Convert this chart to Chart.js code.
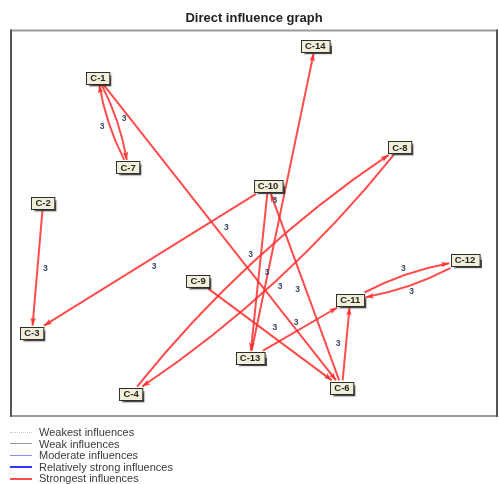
<!DOCTYPE html>
<html><head><meta charset="utf-8">
<script src="https://cdn.jsdelivr.net/npm/chart.js@4.4.1/dist/chart.umd.min.js"></script>
<style>
html,body{margin:0;padding:0;background:#fff;}
#wrap{position:relative;width:499px;height:484px;overflow:hidden;}
canvas{position:absolute;left:0;top:0;}
#legend{position:absolute;left:0;top:426px;width:300px;height:58px;font:11px "Liberation Sans",Arial,sans-serif;color:#3a3a3a;}
.row{position:absolute;left:0;height:12px;width:300px;white-space:nowrap;}
.sw{position:absolute;left:10px;width:22px;height:0;}
.lt{position:absolute;left:39px;top:0;line-height:12px;}
</style></head>
<body><div id="wrap"><canvas id="c" width="499" height="484"></canvas><div id="legend"></div></div>
<script>
// ---- data ----
const nodeNames = ["C-1","C-2","C-3","C-4","C-6","C-7","C-8","C-9","C-10","C-11","C-12","C-13","C-14"];
const nodeX     = [17.9, 6.6, 4.3, 24.7, 68.1, 24.1, 80.0, 38.5, 52.9, 69.8, 93.4, 49.2, 62.6];
const nodeY     = [12.2, 44.8, 78.5, 94.3, 92.7, 35.5, 30.3, 65.0, 40.4, 69.9, 59.6, 85.0, 3.9];
const edgeFrom  = ["C-1","C-7","C-1","C-2","C-10","C-4","C-8","C-13","C-10","C-6","C-9","C-13","C-6","C-11","C-12"];
const edgeTo    = ["C-7","C-1","C-6","C-3","C-3","C-8","C-4","C-14","C-13","C-10","C-6","C-11","C-11","C-12","C-11"];
const edgeValue = [3,3,3,3,3,3,3,3,3,3,3,3,3,3,3];
const legendLabels = ["Weakest influences","Weak influences","Moderate influences","Relatively strong influences","Strongest influences"];
const legendColors = ["#c8c8c8","#9a9a9a","#8c8cff","#3434ff","#ff4d4d"];
const legendStyles = ["dotted","solid","solid","solid","solid"];
const legendWidths = [1,1.5,1.5,2,2];

// ---- legend (HTML) ----
const lg = document.getElementById('legend');
legendLabels.forEach((t,i)=>{
  const r = document.createElement('div'); r.className='row'; r.style.top=(i*11.6)+'px';
  const s = document.createElement('div'); s.className='sw';
  s.style.top = (6.5 - legendWidths[i]/2)+'px';
  s.style.borderTop = legendWidths[i]+'px '+legendStyles[i]+' '+legendColors[i];
  const l = document.createElement('div'); l.className='lt'; l.textContent=t;
  r.appendChild(s); r.appendChild(l); lg.appendChild(r);
});

const NODE_FONT = 'bold 9.5px "Liberation Sans", Arial, sans-serif';
const EDGE_COLOR = 'rgba(255,45,45,0.85)';

function boxSize(ctx, name){
  ctx.save(); ctx.font = NODE_FONT;
  const w = ctx.measureText(name).width + 8;
  ctx.restore();
  return {w:w, h:12};
}
function clip(cx, cy, ux, uy, hw, hh){
  const ax = Math.abs(ux), ay = Math.abs(uy);
  let t = Infinity;
  if (ax > 1e-9) t = Math.min(t, hw/ax);
  if (ay > 1e-9) t = Math.min(t, hh/ay);
  return [cx + ux*t, cy + uy*t];
}

const graphPlugin = {
  id:'graph',
  beforeDatasetsDraw(chart){
    const ctx = chart.ctx, a = chart.chartArea;
    const meta = chart.getDatasetMeta(0);
    // frame
    ctx.save();
    ctx.lineWidth = 2;
    ctx.strokeStyle = '#9a9a9a';
    ctx.beginPath(); ctx.moveTo(a.left, a.top); ctx.lineTo(a.right, a.top);
    ctx.moveTo(a.left, a.bottom); ctx.lineTo(a.right, a.bottom); ctx.stroke();
    ctx.strokeStyle = '#555';
    ctx.beginPath(); ctx.moveTo(a.left, a.top-1); ctx.lineTo(a.left, a.bottom+1);
    ctx.moveTo(a.right, a.top-1); ctx.lineTo(a.right, a.bottom+1); ctx.stroke();
    ctx.restore();

    const pos = {};
    nodeNames.forEach((n,i)=>{ const el = meta.data[i]; pos[n] = {x:el.x, y:el.y, s:boxSize(ctx,n)}; });
    const key = new Set(edgeFrom.map((f,i)=>f+'>'+edgeTo[i]));

    ctx.save();
    ctx.strokeStyle = EDGE_COLOR; ctx.fillStyle = EDGE_COLOR; ctx.lineWidth = 2;
    const labels = [];
    edgeFrom.forEach((f,i)=>{
      const t = edgeTo[i];
      const A = pos[f], B = pos[t];
      const dx = B.x-A.x, dy = B.y-A.y, len = Math.hypot(dx,dy);
      const ux = dx/len, uy = dy/len;
      const px = uy, py = -ux; // perpendicular
      const mx = (A.x+B.x)/2, my = (A.y+B.y)/2;
      const paired = key.has(t+'>'+f);
      const bulge = paired ? 0.038*len : 0;
      const cx = mx + 2*bulge*px, cy = my + 2*bulge*py;
      let sx = cx-A.x, sy = cy-A.y, sl = Math.hypot(sx,sy); sx/=sl; sy/=sl;
      let ex = cx-B.x, ey = cy-B.y, el = Math.hypot(ex,ey); ex/=el; ey/=el;
      const S = clip(A.x, A.y, sx, sy, A.s.w/2+1.5, A.s.h/2+1.5);
      const E = clip(B.x, B.y, ex, ey, B.s.w/2+1.5, B.s.h/2+1.5);
      ctx.beginPath(); ctx.moveTo(S[0],S[1]);
      if (paired) ctx.quadraticCurveTo(cx,cy,E[0],E[1]); else ctx.lineTo(E[0],E[1]);
      ctx.stroke();
      const hx = -ex, hy = -ey, L = 8, W = 2.8;
      ctx.beginPath();
      ctx.moveTo(E[0],E[1]);
      ctx.lineTo(E[0]-hx*L + hy*W, E[1]-hy*L - hx*W);
      ctx.lineTo(E[0]-hx*L*0.8, E[1]-hy*L*0.8);
      ctx.lineTo(E[0]-hx*L - hy*W, E[1]-hy*L + hx*W);
      ctx.closePath(); ctx.fill();
      labels.push([mx + (bulge+8)*px, my + (bulge+8)*py, String(edgeValue[i])]);
    });
    ctx.restore();
    ctx.save();
    ctx.font = 'bold 8.5px "Liberation Sans", Arial, sans-serif';
    ctx.fillStyle = '#3c4868'; ctx.textAlign='center'; ctx.textBaseline='middle';
    labels.forEach(l=>ctx.fillText(l[2], l[0], l[1]));
    ctx.restore();
  },
  afterDatasetsDraw(chart){
    const ctx = chart.ctx;
    const meta = chart.getDatasetMeta(0);
    nodeNames.forEach((n,i)=>{
      const el = meta.data[i];
      const s = boxSize(ctx,n);
      const x0 = Math.round(el.x - s.w/2)+0.5, y0 = Math.round(el.y - s.h/2)+0.5;
      ctx.save();
      ctx.shadowColor = 'rgba(30,30,30,0.8)'; ctx.shadowOffsetX = 2; ctx.shadowOffsetY = 2; ctx.shadowBlur = 1.5;
      ctx.fillStyle = '#f1efd9';
      ctx.fillRect(x0, y0, s.w, s.h);
      ctx.restore();
      ctx.save();
      ctx.strokeStyle = '#2e2e2e'; ctx.lineWidth = 1;
      ctx.strokeRect(x0, y0, s.w, s.h);
      ctx.font = NODE_FONT; ctx.fillStyle = '#262626';
      ctx.textAlign = 'center'; ctx.textBaseline = 'middle';
      ctx.fillText(n, el.x, el.y + 0.5);
      ctx.restore();
    });
  }
};

new Chart(document.getElementById('c'), {
  type:'scatter',
  data:{ datasets:[{ label:'nodes', data: nodeNames.map((n,i)=>({x:nodeX[i], y:nodeY[i]})), pointRadius:0, pointHoverRadius:0 }] },
  options:{
    responsive:false, animation:false,
    layout:{ padding:{ left:11, right:2, top:0, bottom:68 } },
    scales:{
      x:{ type:'linear', min:0, max:100, display:false },
      y:{ type:'linear', min:0, max:100, reverse:true, display:false }
    },
    plugins:{
      legend:{ display:false }, tooltip:{ enabled:false },
      title:{ display:true, text:'Direct influence graph', color:'#222',
        font:{ family:'"Liberation Sans", Arial, sans-serif', size:13, weight:'bold', lineHeight:1.2 },
        padding:{ top:11, bottom:4 } }
    }
  },
  plugins:[graphPlugin]
});
</script>
</body></html>
